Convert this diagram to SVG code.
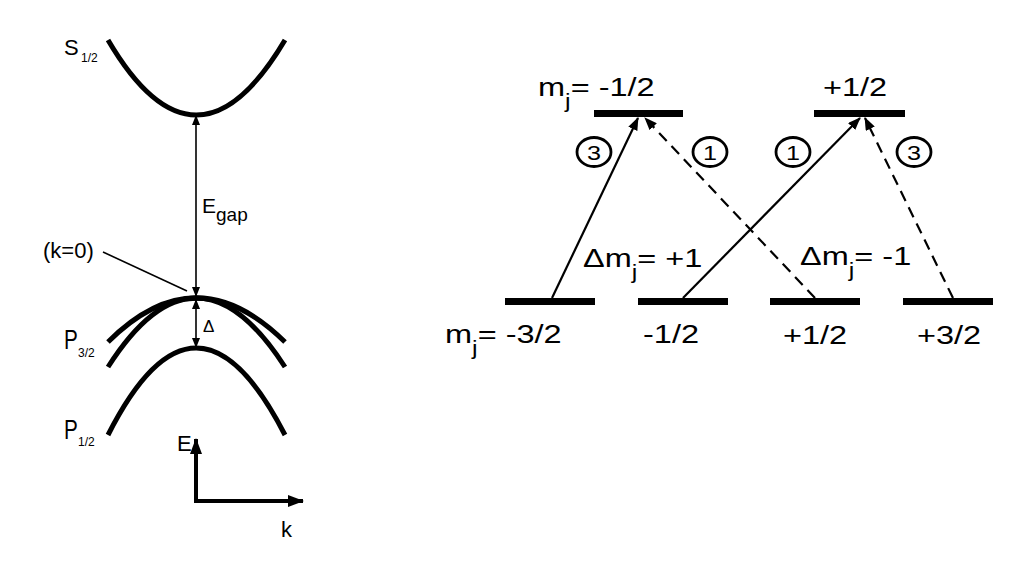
<svg xmlns="http://www.w3.org/2000/svg" width="1018" height="561" viewBox="0 0 1018 561">
<style>
text{font-family:"Liberation Sans",Arial,sans-serif;fill:#000}
.band{fill:none;stroke:#000;stroke-width:5;stroke-linecap:butt}
.thin{fill:none;stroke:#000;stroke-width:1.6}
.axis{fill:none;stroke:#000;stroke-width:4}
.tr{fill:none;stroke:#000;stroke-width:2.2}
.dash{stroke-dasharray:11 7}
.lvl{fill:#000}
.circ{fill:none;stroke:#000;stroke-width:2.8}
.lab{font-size:22px}
.sub{font-size:12px}
.big{font-size:26px}
.num{font-size:21px;text-anchor:middle}
</style>
<defs>
<marker id="ah" markerUnits="userSpaceOnUse" markerWidth="10" markerHeight="8" refX="9" refY="4" orient="auto-start-reverse" viewBox="0 0 10 8">
<path d="M0,0 L10,4 L0,8 z" fill="#000"/>
</marker>
<marker id="ahBig" markerUnits="userSpaceOnUse" markerWidth="16" markerHeight="12" refX="15" refY="6" orient="auto" viewBox="0 0 16 12">
<path d="M0,0 L16,6 L0,12 z" fill="#000"/>
</marker>
<marker id="ahT" markerUnits="userSpaceOnUse" markerWidth="13" markerHeight="10" refX="12" refY="5" orient="auto" viewBox="0 0 13 10">
<path d="M0,0 L13,5 L0,10 z" fill="#000"/>
</marker>
</defs>
<rect width="1018" height="561" fill="#fff"/>

<g id="band-diagram">
<g id="S12">
<path class="band" d="M108,40 Q196,190 285,40"/>
<text class="lab" x="64" y="55" font-size="23">S</text>
<text class="sub" x="81" y="62">1/2</text>
</g>
<g id="P32">
<path class="band" d="M108,342 Q196,254 285,342"/>
<path class="band" d="M108,367 Q196,229 285,367"/>
<text transform="translate(64,349) scale(0.74,1)" font-size="28">P</text>
<text class="sub" x="78" y="357">3/2</text>
</g>
<g id="P12">
<path class="band" d="M108,435 Q196,261 285,435"/>
<text transform="translate(64,439) scale(0.74,1)" font-size="28">P</text>
<text class="sub" x="78" y="446">1/2</text>
</g>
<g id="k0">
<text class="lab" x="43" y="258">(k=0)</text>
</g>
<g id="Egap-label">
<text x="202" y="213" font-size="21">E<tspan font-size="19" dy="8">gap</tspan></text>
</g>
<g id="Delta-label">
<text x="203" y="332" font-size="17">Δ</text>
</g>
<g id="axes">
<text class="lab" x="177" y="451">E</text>
<text class="lab" x="281" y="537">k</text>
</g>
</g>

<g id="connectors">
<line class="thin" x1="196" y1="296" x2="196" y2="116" marker-start="url(#ah)" marker-end="url(#ah)"/>
<line class="thin" x1="196" y1="300" x2="196" y2="347" marker-start="url(#ah)" marker-end="url(#ah)"/>
<line class="thin" x1="103" y1="252" x2="187" y2="291"/>
<line class="axis" x1="196" y1="501" x2="196" y2="439" marker-end="url(#ahBig)"/>
<line class="axis" x1="194" y1="501" x2="303" y2="501" marker-end="url(#ahBig)"/>
<line class="tr" x1="552" y1="298" x2="638" y2="118" marker-end="url(#ahT)"/>
<line class="tr dash" x1="815" y1="298" x2="645" y2="118" marker-end="url(#ahT)"/>
<line class="tr" x1="683" y1="298" x2="860" y2="118" marker-end="url(#ahT)"/>
<line class="tr dash" x1="953" y1="298" x2="865" y2="118" marker-end="url(#ahT)"/>
</g>

<g id="level-top-m12">
<rect class="lvl" x="594" y="110" width="89" height="7"/>
<text class="big" transform="translate(538,96) scale(1.25,1)">m<tspan font-size="20" dy="12">j</tspan><tspan dy="-12">= -1/2</tspan></text>
</g>
<g id="level-top-p12">
<rect class="lvl" x="814" y="110" width="91" height="7"/>
<text class="big" transform="translate(823,96) scale(1.25,1)">+1/2</text>
</g>
<g id="level-bot-m32">
<rect class="lvl" x="505" y="298" width="90" height="7"/>
<text class="big" transform="translate(445,343) scale(1.25,1)">m<tspan font-size="20" dy="12">j</tspan><tspan dy="-12">= -3/2</tspan></text>
</g>
<g id="level-bot-m12">
<rect class="lvl" x="638" y="298" width="90" height="7"/>
<text class="big" transform="translate(643,343) scale(1.25,1)">-1/2</text>
</g>
<g id="level-bot-p12">
<rect class="lvl" x="770" y="298" width="90" height="7"/>
<text class="big" transform="translate(783,344) scale(1.25,1)">+1/2</text>
</g>
<g id="level-bot-p32">
<rect class="lvl" x="903" y="298" width="90" height="7"/>
<text class="big" transform="translate(917,344) scale(1.25,1)">+3/2</text>
</g>

<g id="dm-plus">
<text class="big" transform="translate(583,267) scale(1.25,1)">Δm<tspan font-size="20" dy="12">j</tspan><tspan dy="-12">= +1</tspan></text>
</g>
<g id="dm-minus">
<text class="big" transform="translate(800,265) scale(1.25,1)">Δm<tspan font-size="20" dy="12">j</tspan><tspan dy="-12">= -1</tspan></text>
</g>

<g id="weight-3-left">
<ellipse class="circ" cx="594" cy="152" rx="17" ry="14.5"/>
<text class="num" transform="translate(594,160) scale(1.2,1)">3</text>
</g>
<g id="weight-1-left">
<ellipse class="circ" cx="710" cy="152" rx="17" ry="14.5"/>
<text class="num" transform="translate(710,160) scale(1.2,1)">1</text>
</g>
<g id="weight-1-right">
<ellipse class="circ" cx="793" cy="152" rx="17" ry="14.5"/>
<text class="num" transform="translate(793,160) scale(1.2,1)">1</text>
</g>
<g id="weight-3-right">
<ellipse class="circ" cx="914" cy="152" rx="17" ry="14.5"/>
<text class="num" transform="translate(914,160) scale(1.2,1)">3</text>
</g>
</svg>
